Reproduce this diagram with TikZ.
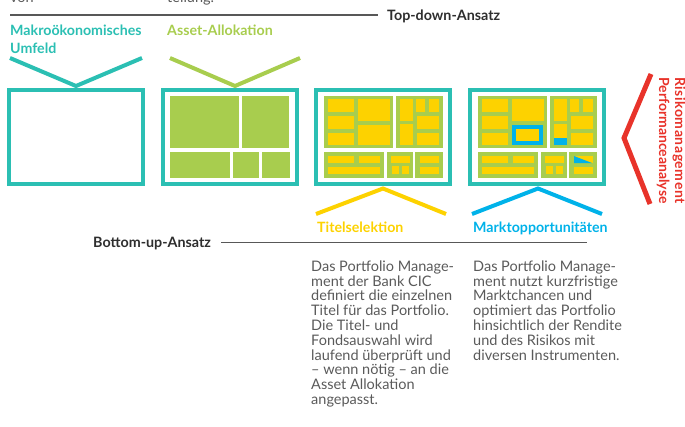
\documentclass[tikz,border=0pt]{standalone}
\usepackage{fontspec}
\setmainfont{Lato}
\definecolor{tealc}{HTML}{2BBFB3}
\definecolor{greenc}{HTML}{A8CD4E}
\definecolor{yellowc}{HTML}{FDD200}
\definecolor{bluec}{HTML}{00B2E9}
\definecolor{redc}{HTML}{E8332A}
\definecolor{bodyc}{HTML}{5A5A5A}
\definecolor{darkc}{HTML}{2E2E2E}
\newcommand\panelfill{%
  % green panels
  \fill[greenc] (324,96) rectangle (393,148);
  \fill[greenc] (396,96) rectangle (443,148);
  \fill[greenc] (324,152) rectangle (384,178);
  \fill[greenc] (387,152) rectangle (413,178);
  \fill[greenc] (415,152) rectangle (443,178);
  % yellow blocks top-left
  \fill[yellowc] (328,99) rectangle (354,112);
  \fill[yellowc] (328,116) rectangle (354,129);
  \fill[yellowc] (328,133) rectangle (354,145);
  \fill[yellowc] (358,99) rectangle (390,121);
  % yellow blocks top-right
  \fill[yellowc] (400,99) rectangle (413,121);
  \fill[yellowc] (416,99) rectangle (425,112);
  \fill[yellowc] (429,99) rectangle (439,112);
  \fill[yellowc] (417,116) rectangle (439,129);
  \fill[yellowc] (417,133) rectangle (439,145);
  % bottom-left
  \fill[yellowc] (328,156) rectangle (354,163);
  \fill[yellowc] (359,156) rectangle (380,163);
  \fill[yellowc] (328,167) rectangle (380,174);
  % bottom-middle
  \fill[yellowc] (391,156) rectangle (410,163);
  \fill[yellowc] (392,166) rectangle (399,174);
  \fill[yellowc] (402,166) rectangle (409,174);
  % bottom-right
  \fill[yellowc] (420,167) rectangle (439,174);
}
\begin{document}
\begin{tikzpicture}[x=1pt,y=-1pt,
  frame/.style={draw=tealc,line width=4pt,minimum width=134pt,minimum height=94pt,inner sep=0pt},
  chev/.style={line width=4pt},
  title/.style={font=\fontsize{14.2}{18.3}\selectfont\bfseries,anchor=base west,inner sep=0pt,align=left},
  axis/.style={font=\fontsize{14.3}{16}\selectfont\bfseries,text=darkc,anchor=base west,inner sep=0pt},
  axisline/.style={draw=darkc!80,line width=1.1pt},
  body/.style={font=\fontsize{14.5}{14.8}\selectfont,text=bodyc,anchor=north west,inner sep=0pt,align=left},
  side/.style={font=\fontsize{14}{16}\selectfont\bfseries,text=redc,anchor=base west,inner sep=0pt,rotate=-90}
]
\useasboundingbox (0,0) rectangle (685,426);
% cut-off text at top
\node[body,anchor=base west] (cut1) at (10,2.5) {von};
\node[body,anchor=base west] (cut2) at (167,2.5) {teilung.};
% top-down axis
\node[axis] (td) at (387,20) {Top-down-Ansatz};
\coordinate (tdstart) at (10,15);
\draw[axisline] (tdstart) -- ([xshift=-9pt]td.west |- tdstart);
% titles
\node[title,text=tealc] (makro) at (10,53.3) {Makroökonomisches\\Umfeld};
\node[title,text=greenc] (asset) at (167,35) {Asset-Allokation};
% boxes
\node[frame] (box1) at (76,137) {};
\node[frame] (box2) at (230,137) {};
\node[frame] (box3) at (383,137) {};
\node[frame] (box4) at (537,137) {};
% top chevrons
\coordinate (t1a) at (10,58); \coordinate (t1b) at (142,58);
\coordinate (t2a) at (170,58); \coordinate (t2b) at (300,58);
\draw[chev,tealc] (t1a) -- (76,86) -- (t1b);
\draw[chev,greenc] (t2a) -- (235,86) -- (t2b);
% box2 contents
\fill[greenc] (170,96) rectangle (239,148);
\fill[greenc] (242,96) rectangle (289,148);
\fill[greenc] (170,152) rectangle (230,178);
\fill[greenc] (233,152) rectangle (259,178);
\fill[greenc] (262,152) rectangle (290,178);
% box3 contents
\panelfill
\fill[yellowc] (358,125) rectangle (390,145);
\fill[yellowc] (400,124) rectangle (413,145);
\fill[yellowc] (420,156) rectangle (439,163);
% box4 contents
\begin{scope}[xshift=154pt]
\panelfill
\fill[bluec] (358,125) rectangle (389,145);
\fill[yellowc] (362,129) rectangle (385,141);
\fill[yellowc] (400,124) rectangle (413,137.5);
\fill[bluec] (400,137.5) rectangle (413,145);
\fill[yellowc] (420,156) rectangle (439,163);
\fill[bluec] (420,156) -- (420,163) -- (438,163) -- cycle;
\end{scope}
% bottom chevrons
\coordinate (b3a) at (316,214); \coordinate (b3b) at (446,214);
\coordinate (b4a) at (472,214); \coordinate (b4b) at (602,214);
\draw[chev,yellowc] (b3a) -- (383,188.5) -- (b3b);
\draw[chev,bluec] (b4a) -- (538,188.5) -- (b4b);
\node[title,text=yellowc] (titel) at (317,232.7) {Titelselektion};
\node[title,text=bluec] (markt) at (473,232.7) {Marktopportunitäten};
% bottom-up axis
\node[axis] (bu) at (93,247) {Bottom-up-Ansatz};
\coordinate (buend) at (587,242.3);
\draw[axisline] ([xshift=10pt]bu.east |- buend) -- (buend);
% body texts
\node[body] (txt1) at (311,260.5) {Das Portfolio Manage-\\ment der Bank CIC\\definiert die einzelnen\\Titel für das Portfolio.\\Die Titel- und\\Fondsauswahl wird\\laufend überprüft und\\– wenn nötig – an die\\Asset Allokation\\angepasst.};
\node[body] (txt2) at (473,260.5) {Das Portfolio Manage-\\ment nutzt kurzfristige\\Marktchancen und\\optimiert das Portfolio\\hinsichtlich der Rendite\\und des Risikos mit\\diversen Instrumenten.};
% red chevron and side labels
\coordinate (ra) at (651,74); \coordinate (rb) at (650,204);
\draw[line width=5pt,redc] (ra) -- (624,138) -- (rb);
\node[side] (risk) at (675,77) {\addfontfeatures{LetterSpace=4}Risikomanagement};
\node[side] (perf) at (659,77) {Performanceanalyse};
\end{tikzpicture}
\end{document}
